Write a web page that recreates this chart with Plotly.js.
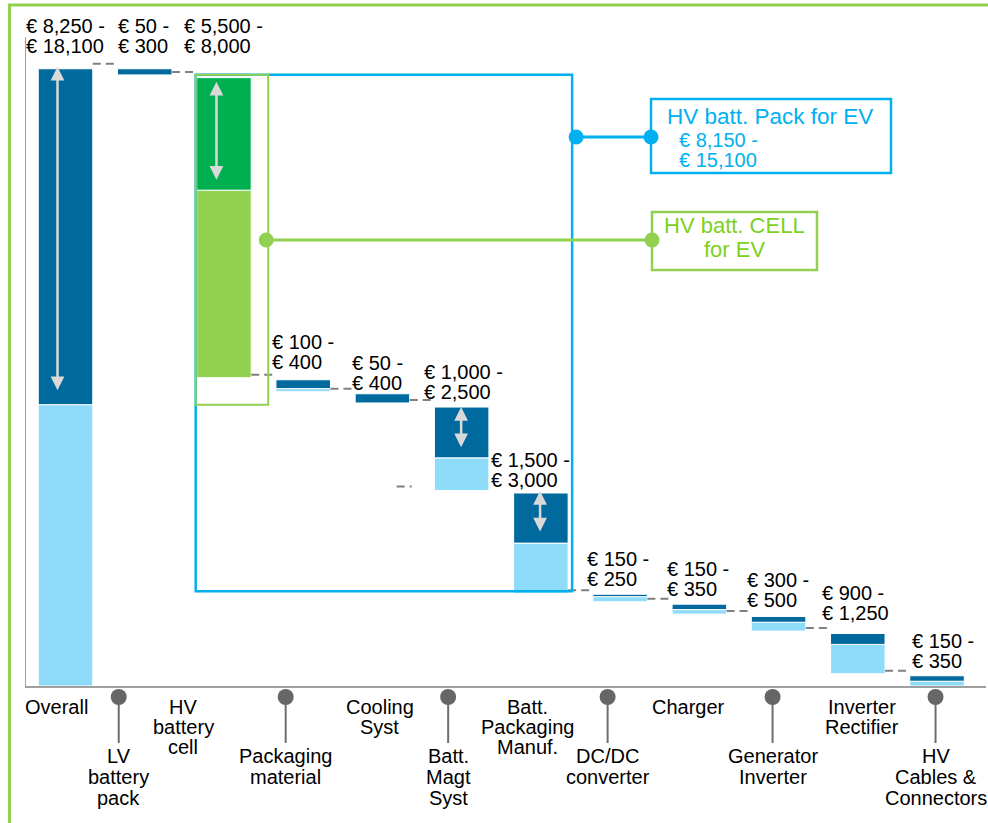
<!DOCTYPE html>
<html><head><meta charset="utf-8">
<script src="https://cdn.plot.ly/plotly-3.0.1.min.js"></script>
<style>html,body{margin:0;padding:0;background:#fff;} #chart{width:988px;height:823px;}</style>
</head><body><div id="chart"></div>
<script>
// ---------------- DATA ----------------
const categories = ["Overall", "LV battery pack", "HV battery cell", "Packaging material", "Cooling Syst",
  "Batt. Magt Syst", "Batt. Packaging Manuf.", "DC/DC converter", "Charger", "Generator Inverter",
  "Inverter Rectifier", "HV Cables & Connectors"];
const tickLabels = ["Overall", "LV<br>battery<br>pack", "HV<br>battery<br>cell", "Packaging<br>material",
  "Cooling<br>Syst", "Batt.<br>Magt<br>Syst", "Batt.<br>Packaging<br>Manuf.", "DC/DC<br>converter",
  "Charger", "Generator<br>Inverter", "Inverter<br>Rectifier", "HV<br>Cables &<br>Connectors"];
// cost range labels (EUR)
const rangeLow  = [8250, 50, 5500, 100, 50, 1000, 1500, 150, 150, 300, 900, 150];
const rangeHigh = [18100, 300, 8000, 400, 400, 2500, 3000, 250, 350, 500, 1250, 350];
// bar segments as drawn (EUR on the chart scale)
const barBase    = [0, 17920, 9040, 8630, 8300, 5730, 2720, 2470, 2110, 1610, 360, 0];
const lowPart    = [8250, 0, 5500, 90, 0, 960, 1470, 150, 130, 260, 860, 140];
const spreadPart = [9850, 180, 3300, 260, 270, 1490, 1470, 70, 160, 170, 320, 160];
// group callouts
const packTitle = "HV batt. Pack for EV";
const packLow = 8150, packHigh = 15100;
const cellTitle = ["HV batt. CELL", "for EV"];

// ---------------- LAYOUT HELPERS ----------------
const L = 26, T = 37, W = 960, H = 649;
const XR = [-0.4985, 11.618], YR = [0, 19032];
const catStep = W / (XR[1] - XR[0]);           // px per category
const uPx = (YR[1] - YR[0]) / H;               // value units per px
const xToPx = x => L + (x - XR[0]) * catStep;
const px2pX = px => (px - L) / W;
const px2pY = py => (T + H - py) / H;
const BW = 0.688;
const FONT = "Liberation Sans, Arial, Helvetica, sans-serif";
const DARK = '#006A9E', LIGHT = '#8EDBFA', DGREEN = '#00B050', LGREEN = '#92D050';
const BLUE = '#00B0F0', GTEXT = '#7DD01E', GREY = '#7F7F7F';
const fmt = v => '€ ' + v.toLocaleString('en-US');

const idx = categories.map((_, i) => i);
const topVal = idx.map(i => barBase[i] + lowPart[i] + spreadPart[i]);
const midVal = idx.map(i => barBase[i] + lowPart[i]);

const traces = [
  {type: 'bar', x: idx, base: barBase, y: lowPart, width: BW, name: 'low',
   marker: {color: idx.map(i => i === 2 ? LGREEN : LIGHT), line: {color: '#fff', width: 1}},
   hoverinfo: 'skip'},
  {type: 'bar', x: idx, base: midVal, y: spreadPart, width: BW, name: 'spread',
   marker: {color: idx.map(i => i === 2 ? DGREEN : DARK), line: {color: '#fff', width: 1}},
   hoverinfo: 'skip'}
];

const annotations = [];
const shapes = [];

// value range labels
const labelDx = [-12, 1, -13, -4, -3, -10, -23, -6, -5, -4, -9, 2];
const labelDy = [23, 23, 32, 18, 11, 15, 13, 15, 15, 16, 20, 15];
idx.forEach(i => {
  const lines = [fmt(rangeLow[i]) + ' -', fmt(rangeHigh[i])];
  lines.forEach((t, j) => {
    annotations.push({xref: 'x', yref: 'y', x: i - BW / 2, y: topVal[i], xanchor: 'left', yanchor: 'middle',
      xshift: labelDx[i] - 2, yshift: labelDy[i] + (j === 0 ? 20 : 0), text: t, showarrow: false,
      font: {family: FONT, size: 20, color: '#000'}});
  });
});

// category labels
const catDx = [-9.5, -26, -40.5, -17.5, -2.5, -13.5, -13.5, -12.5, -10.5, -6, 4.5, -1.5];
idx.forEach(i => {
  const lines = tickLabels[i].split('<br>');
  const lower = i % 2 === 1;
  const y0 = lower ? 756 : 706.5, pitch = lower ? 21 : 20;
  lines.forEach((t, j) => {
    annotations.push({xref: 'x', yref: 'paper', x: i, xshift: catDx[i], y: px2pY(y0 + j * pitch),
      xanchor: 'center', yanchor: 'middle', text: t, showarrow: false,
      font: {family: FONT, size: 20, color: '#000'}});
  });
  if (lower) {
    const cx = xToPx(i) + catDx[i];
    shapes.push({type: 'line', xref: 'paper', yref: 'paper', x0: px2pX(cx), x1: px2pX(cx),
      y0: px2pY(697), y1: px2pY(743), line: {color: '#6E6E6E', width: 2}});
    shapes.push({type: 'circle', xref: 'paper', yref: 'paper', x0: px2pX(cx - 8), x1: px2pX(cx + 8),
      y0: px2pY(689), y1: px2pY(705), fillcolor: '#666666', line: {width: 0}});
  }
});

// dashed connectors
const dash = {color: GREY, width: 2, dash: '8px,5px'};
for (let i = 0; i < 11; i++) {
  if (i === 5) continue;
  const lvl = i === 0 ? topVal[0] + 5 * uPx : barBase[i] + 3 * uPx;
  shapes.push({type: 'line', xref: 'x', yref: 'y', x0: i + BW / 2, x1: i + 1 - BW / 2, y0: lvl, y1: lvl, line: dash});
}
shapes.push({type: 'line', xref: 'x', yref: 'y', x0: 4 + BW / 2 - 13 / catStep, x1: 4 + BW / 2 + 2 / catStep,
  y0: barBase[5] + 4 * uPx, y1: barBase[5] + 4 * uPx, line: dash});

// spread arrows
const arrows = [[0, -8, 2, 13], [2, -7.5, -4, 9], [5, -0.5, 0, 9], [6, -0.8, 2, 10]];
arrows.forEach(([i, dx, topOff, botOff]) => {
  const x = i + dx / catStep;
  annotations.push({xref: 'x', yref: 'y', axref: 'x', ayref: 'y', x: x, y: topVal[i] + topOff * uPx,
    ax: x, ay: midVal[i] + botOff * uPx, text: '', showarrow: true, arrowside: 'end+start',
    arrowhead: 2, startarrowhead: 2, arrowsize: 1.1, startarrowsize: 1.1, arrowwidth: 2.5,
    arrowcolor: '#D9D9D9', standoff: 0, startstandoff: 0, font: {size: 1}});
});

// group boxes
const gx0 = 2 - BW / 2 - 1 / catStep;
const gy1 = topVal[2] + 3 * uPx;
const bx1 = 6 + BW / 2 + 4 / catStep;
shapes.push({type: 'rect', xref: 'x', yref: 'y', x0: gx0, x1: bx1, y0: barBase[6] + 2 * uPx, y1: gy1,
  line: {color: BLUE, width: 2.5}});
const cx1 = 2 + BW / 2 + 17 / catStep;
shapes.push({type: 'rect', xref: 'x', yref: 'y', x0: gx0, x1: cx1, y0: barBase[2] - 27 * uPx, y1: gy1,
  line: {color: LGREEN, width: 2}});

// callouts
const bDot = xToPx(bx1) + 4, gDot = xToPx(cx1) - 2;
shapes.push({type: 'line', xref: 'paper', yref: 'paper', x0: px2pX(bDot), x1: px2pX(651), y0: px2pY(137), y1: px2pY(137), line: {color: BLUE, width: 3}});
shapes.push({type: 'line', xref: 'paper', yref: 'paper', x0: px2pX(gDot), x1: px2pX(651), y0: px2pY(240), y1: px2pY(240), line: {color: LGREEN, width: 3}});
[[bDot, 137, BLUE], [651, 137, BLUE], [gDot, 240, LGREEN], [652, 240, LGREEN]].forEach(([x, y, c]) => {
  shapes.push({type: 'circle', xref: 'paper', yref: 'paper', x0: px2pX(x - 7.5), x1: px2pX(x + 7.5),
    y0: px2pY(y + 7.5), y1: px2pY(y - 7.5), fillcolor: c, line: {width: 0}});
});
shapes.push({type: 'rect', xref: 'paper', yref: 'paper', x0: px2pX(651), x1: px2pX(891), y0: px2pY(173), y1: px2pY(99),
  line: {color: BLUE, width: 2.5}, fillcolor: 'rgba(0,0,0,0)'});
shapes.push({type: 'rect', xref: 'paper', yref: 'paper', x0: px2pX(652), x1: px2pX(817), y0: px2pY(270), y1: px2pY(212),
  line: {color: LGREEN, width: 2.5}, fillcolor: 'rgba(0,0,0,0)'});
annotations.push({xref: 'paper', yref: 'paper', x: px2pX(770), y: px2pY(116.5), xanchor: 'center', yanchor: 'middle',
  text: packTitle, showarrow: false, font: {family: FONT, size: 22.5, color: BLUE}});
[fmt(packLow) + ' -', fmt(packHigh)].forEach((t, j) => {
  annotations.push({xref: 'paper', yref: 'paper', x: px2pX(677), y: px2pY(140 + 20 * j), xanchor: 'left', yanchor: 'middle',
    text: t, showarrow: false, font: {family: FONT, size: 20, color: BLUE}});
});
cellTitle.forEach((t, j) => {
  annotations.push({xref: 'paper', yref: 'paper', x: px2pX(734.5), y: px2pY(226 + 24 * j), xanchor: 'center', yanchor: 'middle',
    text: t, showarrow: false, font: {family: FONT, size: 22, color: GTEXT}});
});

// outer green frame (top and left)
shapes.push({type: 'line', xref: 'paper', yref: 'paper', x0: px2pX(8), x1: px2pX(990), y0: px2pY(5), y1: px2pY(5), line: {color: LGREEN, width: 3}});
shapes.push({type: 'line', xref: 'paper', yref: 'paper', x0: px2pX(9.5), x1: px2pX(9.5), y0: px2pY(4), y1: px2pY(825), line: {color: LGREEN, width: 3}});

const layout = {
  width: 988, height: 823,
  margin: {l: L, r: 988 - L - W, t: T, b: 823 - T - H, pad: 0},
  paper_bgcolor: '#fff', plot_bgcolor: '#fff',
  barmode: 'overlay', showlegend: false,
  xaxis: {range: XR, showline: true, linecolor: '#A0A0A0', linewidth: 2, showgrid: false, zeroline: false,
    showticklabels: false, ticks: '', fixedrange: true},
  yaxis: {range: YR, showline: true, linecolor: '#A0A0A0', linewidth: 1, showgrid: false, zeroline: false,
    showticklabels: false, ticks: '', fixedrange: true},
  annotations: annotations, shapes: shapes,
  font: {family: FONT}
};
Plotly.newPlot('chart', traces, layout, {staticPlot: true, displayModeBar: false});
</script>
</body></html>
